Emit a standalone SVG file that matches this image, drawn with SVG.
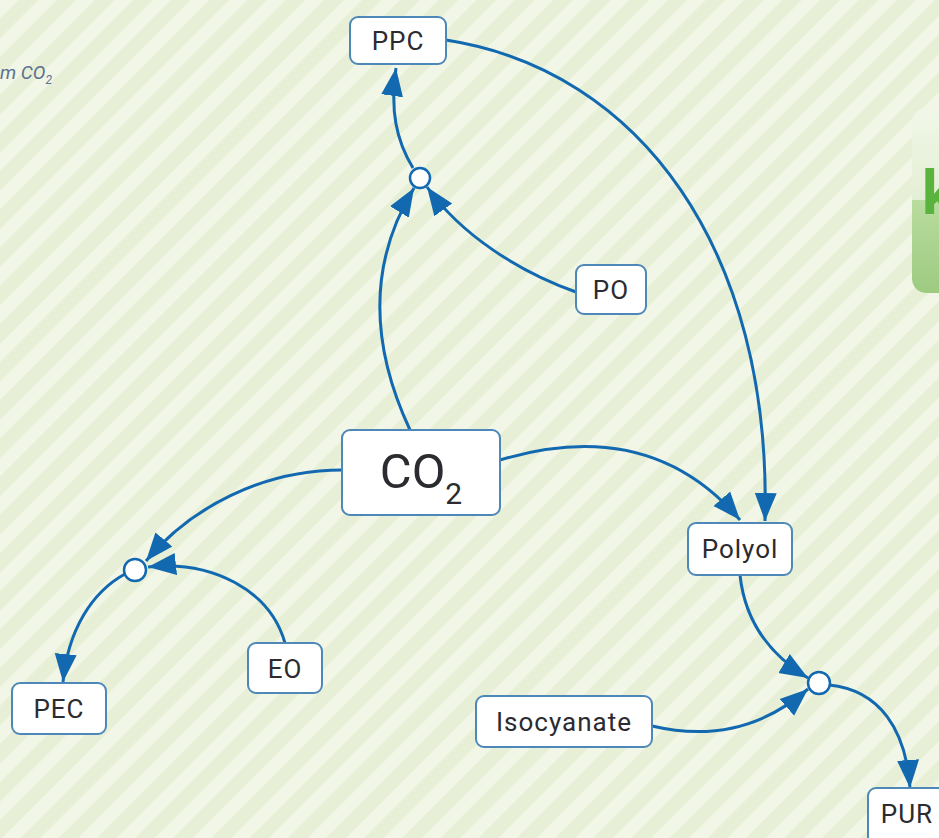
<svg xmlns="http://www.w3.org/2000/svg" width="939" height="838" viewBox="0 0 939 838">
  <defs>
    <pattern id="stripes" width="27" height="27" patternUnits="userSpaceOnUse" patternTransform="rotate(45)">
      <rect width="27" height="27" fill="#e7f0d6"/>
      <rect width="13" height="27" fill="#f1f6e6"/>
    </pattern>
    <linearGradient id="gloss" x1="0" y1="0" x2="0" y2="1">
      <stop offset="0" stop-color="#f1f7e8"/>
      <stop offset="0.5" stop-color="#e3efd4"/>
      <stop offset="0.5" stop-color="#b9dc9f"/>
      <stop offset="1" stop-color="#9dcb80"/>
    </linearGradient>
    <clipPath id="panel-clip">
      <rect x="912" y="108" width="60" height="185" rx="14"/>
    </clipPath>
    <marker id="arrow" markerUnits="userSpaceOnUse" markerWidth="30" markerHeight="24" refX="28" refY="12" orient="auto">
      <path d="M0,1 L28,12 L0,23 Z" fill="#1269b0"/>
    </marker>
    <style>
      .node rect { fill: #ffffff; stroke: #4d88b9; stroke-width: 2; }
      .node text { font-family: Roboto, "Liberation Sans", sans-serif; fill: #2b2b30; text-anchor: middle; }
      .lbl { font-size: 26px; letter-spacing: 1px; }
      .junction circle { fill: #ffffff; stroke: #1269b0; stroke-width: 2.5; }
      #connectors path { fill: none; stroke: #1269b0; stroke-width: 3; marker-end: url(#arrow); }
    </style>
  </defs>

  <!-- background -->
  <rect width="939" height="838" fill="url(#stripes)"/>

  <!-- caption fragment, top left -->
  <text x="0" y="79" font-family="Roboto, 'Liberation Sans', sans-serif" font-style="italic" font-size="19" fill="#5b7190">m CO<tspan font-size="12" dy="5">2</tspan></text>

  <!-- side panel, right edge -->
  <g id="side-panel" clip-path="url(#panel-clip)">
    <rect x="912" y="108" width="60" height="185" rx="14" fill="url(#gloss)"/>
    <text x="922" y="214" font-family="Roboto, 'Liberation Sans', sans-serif" font-weight="bold" font-size="62" fill="#5ab33c">k</text>
  </g>

  <!-- connectors -->
  <g id="connectors">
    <path d="M413,168 C396,140 390,110 396,68"/>
    <path d="M410,430 C368,340 370,260 414,188"/>
    <path d="M576,292 C520,272 462,236 427,187"/>
    <path d="M446,40 C640,70 772,250 765,521"/>
    <path d="M500,460 C600,430 680,450 740,520"/>
    <path d="M342,470 C262,470 190,508 146,561"/>
    <path d="M285,643 C270,590 212,560 148,567"/>
    <path d="M125,574 C92,592 68,630 63,682"/>
    <path d="M740,575 C745,622 770,655 808,678"/>
    <path d="M652,726 C720,742 770,722 808,689"/>
    <path d="M829,685 C880,690 906,730 910,788"/>
  </g>

  <!-- junction points -->
  <g id="j-ppc" class="junction"><circle cx="420" cy="178" r="10"/></g>
  <g id="j-pec" class="junction"><circle cx="135" cy="570" r="11"/></g>
  <g id="j-pur" class="junction"><circle cx="819" cy="683" r="11"/></g>

  <!-- nodes -->
  <g id="ppc" class="node">
    <rect x="350" y="17" width="96" height="47" rx="8"/>
    <text class="lbl" x="398" y="50">PPC</text>
  </g>
  <g id="po" class="node">
    <rect x="576" y="265" width="70" height="49" rx="8"/>
    <text class="lbl" x="611" y="299">PO</text>
  </g>
  <g id="co2" class="node">
    <rect x="342" y="430" width="158" height="85" rx="8"/>
    <text x="421" y="488" font-size="49">CO<tspan font-size="30" dy="16">2</tspan></text>
  </g>
  <g id="polyol" class="node">
    <rect x="688" y="523" width="104" height="52" rx="8"/>
    <text class="lbl" x="740" y="558">Polyol</text>
  </g>
  <g id="eo" class="node">
    <rect x="248" y="643" width="74" height="50" rx="8"/>
    <text class="lbl" x="285" y="678">EO</text>
  </g>
  <g id="pec" class="node">
    <rect x="12" y="683" width="94" height="51" rx="8"/>
    <text class="lbl" x="59" y="718">PEC</text>
  </g>
  <g id="isocyanate" class="node">
    <rect x="476" y="696" width="176" height="51" rx="8"/>
    <text class="lbl" x="564" y="731">Isocyanate</text>
  </g>
  <g id="pur" class="node">
    <rect x="868" y="788" width="100" height="56" rx="8"/>
    <text class="lbl" x="907" y="823" letter-spacing="0">PUR</text>
  </g>
</svg>
